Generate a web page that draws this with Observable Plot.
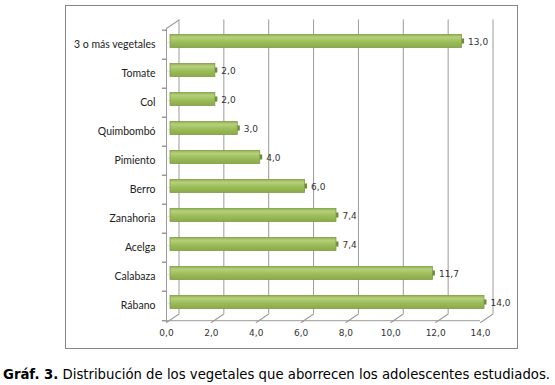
<!DOCTYPE html>
<html>
<head>
<meta charset="utf-8">
<script src="https://cdn.jsdelivr.net/npm/d3@7"></script>
<script src="https://cdn.jsdelivr.net/npm/@observablehq/plot@0.6"></script>
<style>
  body { margin: 0; background: #fff; }
  #frame { position: absolute; left: 65px; top: 5px; width: 451px; height: 342px; border: 1px solid #868686; background: #fff; }
  #frame svg { display: block; }
  #caption { position: absolute; left: 3px; top: 367px; font-family: "DejaVu Sans", Verdana, sans-serif; font-size: 13.25px; color: #000; white-space: nowrap; }
</style>
</head>
<body>
<div id="frame"></div>
<div id="caption"><b>Gráf. 3.</b> Distribución de los vegetales que aborrecen los adolescentes estudiados.</div>
<script>
const categories = ["3 o más vegetales", "Tomate", "Col", "Quimbombó", "Pimiento", "Berro", "Zanahoria", "Acelga", "Calabaza", "Rábano"];
const values = [13.0, 2.0, 2.0, 3.0, 4.0, 6.0, 7.4, 7.4, 11.7, 14.0];
const xTicks = [0, 2, 4, 6, 8, 10, 12, 14];

const data = categories.map((c, i) => ({cat: c, v: values[i]}));
const fmt = d => d.toFixed(1).replace(".", ",");

// layout constants (pixels)
const depthX = 12.5, depthY = -8.5;
const step = 29.4, bw = 12.9, barDx = 4, barDy = -3.5;
const inset = (step - bw) / 2;
const lineShape = {draw(ctx, l) { ctx.moveTo(0, 0); ctx.lineTo(0, -l); }};
const depthLen = Math.hypot(depthX, depthY);
const depthRot = Math.atan2(depthX, -depthY) * 180 / Math.PI;
const axisGray = "#9a9a9a";

const chart = Plot.plot({
  width: 451,
  height: 342,
  marginLeft: 100,
  marginRight: 37,
  marginTop: 22,
  marginBottom: 26,
  style: {fontFamily: "Lato, sans-serif", background: "#fff"},
  x: {domain: [0, 14], ticks: xTicks, tickFormat: fmt, label: null},
  y: {domain: categories, paddingInner: 0.5612, paddingOuter: 0.2806, label: null},
  marks: [
    // back wall gridlines
    Plot.ruleX(xTicks, {x: d => d, dx: depthX, dy: depthY, stroke: axisGray, strokeWidth: 1}),
    // floor connectors
    Plot.vector(xTicks, {x: d => d, frameAnchor: "bottom", length: depthLen, rotate: depthRot, anchor: "start", shape: lineShape, stroke: axisGray, strokeWidth: 1}),
    // top-left connector
    Plot.vector([0], {x: d => d, frameAnchor: "top", length: depthLen, rotate: depthRot, anchor: "start", shape: lineShape, stroke: axisGray, strokeWidth: 1}),
    // front left axis and bottom line
    Plot.ruleX([0], {stroke: axisGray, strokeWidth: 1}),
    Plot.ruleY(categories.slice(-1), {y: d => d, dy: step / 2, x1: 0, x2: 14, stroke: axisGray, strokeWidth: 1}),
    // category boundary ticks
    Plot.vector(categories, {x: 0, y: d => d, dy: -step / 2, length: 4, rotate: -90, anchor: "start", shape: lineShape, stroke: axisGray}),
    Plot.vector(categories.slice(-1), {x: 0, y: d => d, dy: step / 2, length: 4, rotate: -90, anchor: "start", shape: lineShape, stroke: axisGray}),
    // bar shadow on side wall
    Plot.tickX(data, {x: 0, y: "cat", dx: 3, dy: barDy + 1, insetTop: inset - 1, insetBottom: inset - 2, stroke: "#cdcdcd", strokeWidth: 6}),
    // bars
    Plot.barX(data, {x1: 0, x2: "v", y: "cat", dx: barDx, dy: barDy, fill: "url(#barGrad)", stroke: "#7f9c46", strokeWidth: 0.8}),
    // right end cap
    Plot.tickX(data, {x: "v", y: "cat", dx: barDx + 0.8, dy: barDy, insetTop: inset + 0.8, insetBottom: inset + 0.8, stroke: "#6f8c36", strokeWidth: 2.4}),
    // value labels
    Plot.text(data, {x: "v", y: "cat", text: d => fmt(d.v), dx: barDx + 6, dy: barDy + 1, textAnchor: "start", fontFamily: "DejaVu Sans, Verdana, sans-serif", fontSize: 9, fill: "#333"}),
    // axes
    Plot.axisX(xTicks, {tickSize: 0, tickPadding: 7, fontFamily: "DejaVu Sans, Verdana, sans-serif", fontSize: 9, fill: "#333", tickFormat: fmt, label: null}),
    Plot.axisY({tickSize: 0, tickPadding: 11, fontSize: 10.5, fill: "#222", label: null})
  ]
});

const defs = d3.select(chart).insert("defs", ":first-child");
const g = defs.append("linearGradient").attr("id", "barGrad").attr("x1", 0).attr("y1", 0).attr("x2", 0).attr("y2", 1);
g.append("stop").attr("offset", "0%").attr("stop-color", "#92b151");
g.append("stop").attr("offset", "22%").attr("stop-color", "#b5d07b");
g.append("stop").attr("offset", "55%").attr("stop-color", "#9ebe5c");
g.append("stop").attr("offset", "100%").attr("stop-color", "#8aa948");

document.getElementById("frame").appendChild(chart);
</script>
</body>
</html>
